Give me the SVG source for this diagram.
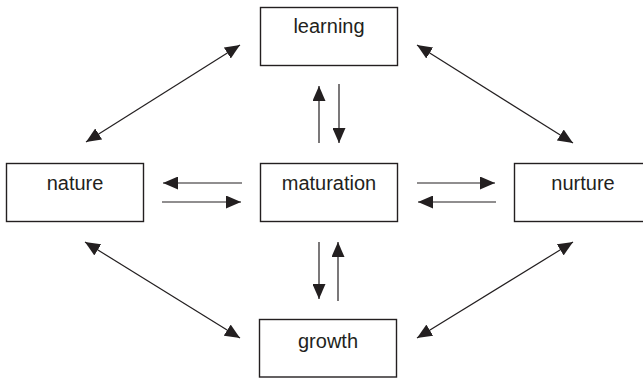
<svg xmlns="http://www.w3.org/2000/svg" width="643" height="379" viewBox="0 0 643 379">
<defs>
<style>
.box{fill:#fff;stroke:#231f20;stroke-width:1.4}
.lbl{font-family:"Liberation Sans",Arial,sans-serif;font-size:20px;fill:#231f20;text-anchor:middle}
.c{stroke:#231f20;stroke-width:1.2;fill:none}
.one{marker-end:url(#ah)}
.two{marker-end:url(#ah);marker-start:url(#ah)}
</style>
<marker id="ah" markerUnits="userSpaceOnUse" markerWidth="16" markerHeight="13" refX="15" refY="6.5" orient="auto-start-reverse">
<path d="M0,0 L15,6.5 L0,13 z" fill="#231f20"/>
</marker>
</defs>
<rect width="643" height="379" fill="#fff"/>
<g id="connectors">
<line class="c two" x1="240" y1="45" x2="86" y2="142"/>
<line class="c two" x1="417" y1="45" x2="573" y2="143"/>
<line class="c two" x1="85" y1="242" x2="240" y2="338"/>
<line class="c two" x1="573" y1="242" x2="417" y2="338"/>
<line class="c one" x1="242" y1="183" x2="163" y2="183"/>
<line class="c one" x1="162" y1="202" x2="241" y2="202"/>
<line class="c one" x1="417" y1="183" x2="495" y2="183"/>
<line class="c one" x1="496" y1="202" x2="418" y2="202"/>
<line class="c one" x1="319" y1="143" x2="319" y2="86"/>
<line class="c one" x1="339" y1="84" x2="339" y2="143"/>
<line class="c one" x1="319" y1="242" x2="319" y2="299"/>
<line class="c one" x1="338" y1="301" x2="338" y2="242"/>
</g>
<g id="learning"><rect class="box" x="260.5" y="7.5" width="137" height="58"/><text class="lbl" x="329" y="33">learning</text></g>
<g id="nature"><rect class="box" x="6.5" y="163.5" width="137" height="58"/><text class="lbl" x="75" y="190">nature</text></g>
<g id="maturation"><rect class="box" x="260.5" y="163.5" width="137" height="58"/><text class="lbl" x="329" y="190">maturation</text></g>
<g id="nurture"><rect class="box" x="514.5" y="163.5" width="137" height="58"/><text class="lbl" x="583" y="190">nurture</text></g>
<g id="growth"><rect class="box" x="259.5" y="319.5" width="137" height="57.5"/><text class="lbl" x="328" y="348">growth</text></g>
</svg>
